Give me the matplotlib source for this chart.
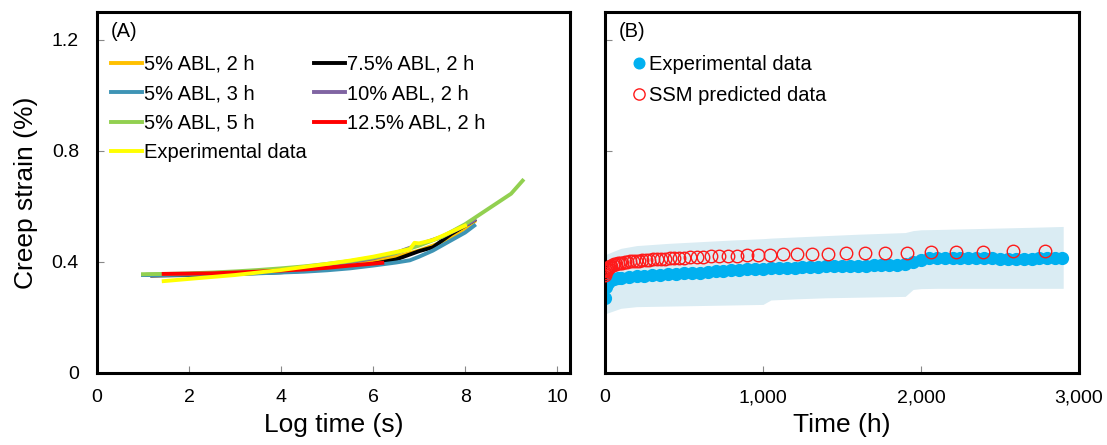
import numpy as np
import matplotlib
matplotlib.use("Agg")
import matplotlib.pyplot as plt
from matplotlib import ticker

plt.rcParams['font.family'] = ['Liberation Sans', 'DejaVu Sans']

# (A) creep strain vs log time for each ABL condition
orange_t = [1.0, 1.5, 2.0, 2.5, 3.0, 3.5, 4.0, 4.5, 5.0, 5.5, 6.0, 6.5, 7.0, 7.5, 8.0, 8.2]
orange_v = [0.352, 0.353, 0.355, 0.358, 0.361, 0.365, 0.369, 0.374, 0.381, 0.390, 0.402,
            0.418, 0.440, 0.470, 0.520, 0.545]

blue_t = [1.0, 1.5, 2.0, 2.5, 3.0, 3.5, 4.0, 4.5, 5.0, 5.5, 6.0, 6.5, 6.8, 7.0, 7.3, 7.6, 8.0, 8.2]
blue_v = [0.352, 0.352, 0.353, 0.354, 0.356, 0.358, 0.361, 0.364, 0.369, 0.376, 0.386,
          0.397, 0.405, 0.418, 0.440, 0.468, 0.505, 0.530]

green_t = [1.0, 1.5, 2.0, 2.5, 3.0, 3.5, 4.0, 4.5, 5.0, 5.5, 6.0, 6.5, 7.0, 7.5, 8.0, 8.5, 9.0, 9.25]
green_v = [0.355, 0.356, 0.358, 0.361, 0.365, 0.370, 0.376, 0.383, 0.392, 0.402, 0.415,
           0.432, 0.458, 0.490, 0.535, 0.590, 0.645, 0.692]

black_t = [1.2, 2.0, 3.0, 4.0, 5.0, 5.5, 6.0, 6.5, 7.0, 7.3, 7.7, 8.0, 8.2]
black_v = [0.350, 0.352, 0.356, 0.362, 0.372, 0.380, 0.392, 0.408, 0.438, 0.452, 0.500, 0.530, 0.550]

purple_t = [1.1, 2.0, 3.0, 4.0, 5.0, 5.5, 6.0, 6.5, 7.0, 7.5, 8.0, 8.2]
purple_v = [0.353, 0.356, 0.362, 0.372, 0.388, 0.398, 0.412, 0.432, 0.462, 0.490, 0.530, 0.550]

red_t = [1.45, 2.0, 2.5, 3.0, 3.5, 4.0, 4.5, 5.0, 5.5, 6.0, 6.2]
red_v = [0.356, 0.357, 0.358, 0.361, 0.364, 0.368, 0.372, 0.378, 0.386, 0.393, 0.396]

yellow_t = [1.45, 2.0, 2.5, 3.0, 3.5, 4.0, 4.5, 5.0, 5.5, 6.0, 6.5, 6.8, 6.9, 7.0, 7.3, 7.6, 8.0]
yellow_v = [0.330, 0.338, 0.345, 0.352, 0.361, 0.370, 0.381, 0.392, 0.404, 0.418, 0.435,
            0.445, 0.468, 0.466, 0.478, 0.500, 0.530]

# (B) experimental creep strain vs time, with scatter band
exp_t = [0, 8, 20, 40, 60, 80, 100, 150, 200, 250, 300, 350, 400, 450, 500, 550, 600, 650,
         700, 750, 800, 850, 900, 950, 1000, 1050, 1100, 1150, 1200, 1250, 1300, 1350, 1400,
         1450, 1500, 1550, 1600, 1650, 1700, 1750, 1800, 1850, 1900, 1950, 2000, 2050, 2100,
         2150, 2200, 2250, 2300, 2350, 2400, 2450, 2500, 2550, 2600, 2650, 2700, 2750, 2800,
         2850, 2890]
exp_v = [0.268, 0.308, 0.325, 0.333, 0.337, 0.340, 0.342, 0.345, 0.347, 0.349, 0.351, 0.352,
         0.354, 0.356, 0.358, 0.359, 0.361, 0.363, 0.365, 0.367, 0.369, 0.370, 0.372, 0.374,
         0.375, 0.376, 0.377, 0.378, 0.379, 0.380, 0.381, 0.382, 0.383, 0.383, 0.384, 0.385,
         0.385, 0.386, 0.387, 0.387, 0.388, 0.389, 0.392, 0.398, 0.407, 0.413, 0.414, 0.413,
         0.413, 0.412, 0.412, 0.412, 0.412, 0.412, 0.411, 0.411, 0.411, 0.411, 0.411, 0.412,
         0.412, 0.412, 0.412]

band_t = [0, 100, 200, 400, 600, 800, 1000, 1050, 1200, 1400, 1600, 1800, 1900, 1950, 2000,
          2100, 2400, 2700, 2900]
band_hi = [0.425, 0.448, 0.458, 0.466, 0.472, 0.478, 0.483, 0.485, 0.489, 0.494, 0.499,
           0.503, 0.505, 0.512, 0.515, 0.516, 0.520, 0.524, 0.527]
band_lo = [0.212, 0.232, 0.238, 0.240, 0.242, 0.244, 0.246, 0.262, 0.266, 0.270, 0.272,
           0.274, 0.275, 0.300, 0.303, 0.304, 0.304, 0.304, 0.304]

# SSM predictions
ssm_t = [0, 3, 6, 10, 15, 20, 26, 33, 41, 50, 60, 71, 83, 96, 110, 125, 141, 158, 176, 195,
         215, 236, 258, 281, 305, 330, 356, 383, 411, 440, 470, 501, 540, 580, 622, 671, 722,
         780, 837, 901, 970, 1044, 1125, 1213, 1308, 1414, 1523, 1646, 1772, 1909, 2061, 2222,
         2394, 2584, 2785]
ssm_v = [0.352, 0.360, 0.366, 0.371, 0.375, 0.378, 0.381, 0.384, 0.386, 0.388, 0.390, 0.392,
         0.394, 0.396, 0.397, 0.399, 0.400, 0.401, 0.402, 0.403, 0.404, 0.405, 0.406, 0.407,
         0.408, 0.409, 0.410, 0.411, 0.412, 0.413, 0.414, 0.415, 0.416, 0.417, 0.418, 0.419,
         0.420, 0.421, 0.422, 0.423, 0.424, 0.425, 0.426, 0.427, 0.428, 0.429, 0.430, 0.431,
         0.432, 0.433, 0.434, 0.435, 0.436, 0.438, 0.440]


def style_axes(ax):
    for s in ax.spines.values():
        s.set_linewidth(2.2)
        s.set_color('black')
    ax.tick_params(direction='in', length=5, width=0.8, color='#888888',
                   labelsize=14, top=False, right=False)
    ax.tick_params(axis='y', pad=13)
    ax.tick_params(axis='x', pad=12)
    ax.set_ylim(0, 1.3)
    ax.set_yticks([0, 0.4, 0.8, 1.2])
    ax.yaxis.set_major_formatter(ticker.FuncFormatter(lambda v, p: f'{v:g}'))


def main():
    fig = plt.figure(figsize=(11.07, 4.45), dpi=100)
    ax1 = fig.add_axes([0.0876, 0.1625, 0.4273, 0.8106])
    ax2 = fig.add_axes([0.5465, 0.1625, 0.4282, 0.8106])

    lw = 2.8
    ax1.plot(orange_t, orange_v, color='#FFC000', lw=lw, label='5% ABL, 2 h')
    ax1.plot(black_t, black_v, color='black', lw=lw, label='7.5% ABL, 2 h')
    ax1.plot(purple_t, purple_v, color='#8064A2', lw=lw, label='10% ABL, 2 h')
    ax1.plot(blue_t, blue_v, color='#3E94B5', lw=lw, label='5% ABL, 3 h')
    ax1.plot(green_t, green_v, color='#92D050', lw=lw, label='5% ABL, 5 h')
    ax1.plot(red_t, red_v, color='#FF0000', lw=lw, label='12.5% ABL, 2 h')
    ax1.plot(yellow_t, yellow_v, color='#FFFF00', lw=lw, label='Experimental data')

    handles, labels = ax1.get_legend_handles_labels()
    order = ['5% ABL, 2 h', '5% ABL, 3 h', '5% ABL, 5 h', 'Experimental data',
             '7.5% ABL, 2 h', '10% ABL, 2 h', '12.5% ABL, 2 h']
    hmap = dict(zip(labels, handles))
    ax1.legend([hmap[k] for k in order], order, ncol=2, frameon=False, fontsize=14.5,
               loc='upper left', bbox_to_anchor=(0.0, 0.92), handlelength=1.55,
               handletextpad=0.1, columnspacing=0.35, labelspacing=0.52,
               borderaxespad=0.3)
    ax1.text(0.03, 0.945, '(A)', transform=ax1.transAxes, fontsize=14.5, va='center')

    ax1.set_xlim(0, 10.28)
    ax1.set_xticks([0, 2, 4, 6, 8, 10])
    ax1.set_xlabel('Log time (s)', fontsize=19, labelpad=5)
    ax1.set_ylabel('Creep strain (%)', fontsize=19, labelpad=10)
    style_axes(ax1)

    ax2.fill_between(band_t, band_lo, band_hi, color='#DAECF3', lw=0, zorder=1)
    ax2.vlines(exp_t[0], 0.135, band_lo[0], color='#999999', lw=1, zorder=1)
    ax2.plot(exp_t, exp_v, 'o', color='#00B0F0', ms=8.5, mec='#00B0F0',
             label='Experimental data', zorder=2)
    ax2.plot(ssm_t, ssm_v, 'o', mfc='none', mec='#FF1A1A', ms=9, mew=1.0,
             label='SSM predicted data', zorder=3)
    ax2.legend(frameon=False, fontsize=14.5, loc='upper left',
               bbox_to_anchor=(0.03, 0.92), handlelength=0.6, handletextpad=0.2,
               labelspacing=0.6, markerscale=0.9, borderaxespad=0.3)
    ax2.text(0.03, 0.945, '(B)', transform=ax2.transAxes, fontsize=14.5, va='center')

    ax2.set_xlim(0, 3000)
    ax2.set_xticks([0, 1000, 2000, 3000])
    ax2.xaxis.set_major_formatter(ticker.FuncFormatter(lambda v, p: f'{v:,.0f}'))
    ax2.set_xlabel('Time (h)', fontsize=19, labelpad=5)
    style_axes(ax2)
    ax2.set_yticklabels([])

    fig.savefig('out.png', dpi=100)


if __name__ == "__main__":
    main()
